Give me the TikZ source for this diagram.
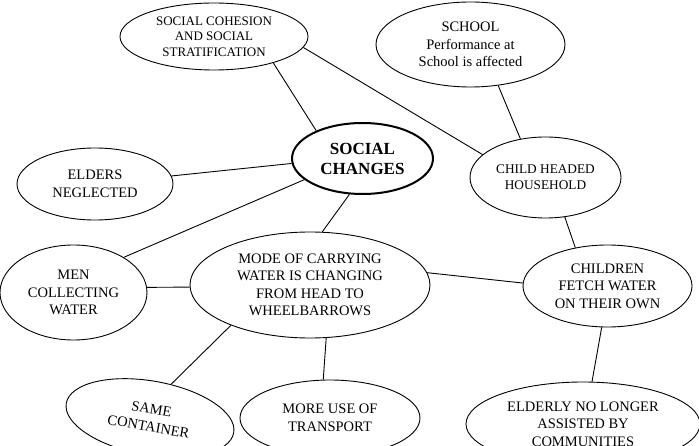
\documentclass[tikz,border=0pt]{standalone}
\usepackage{fontspec}
\setmainfont{Liberation Serif}
\usetikzlibrary{shapes.geometric}
\begin{document}
\begin{tikzpicture}[x=1pt,y=-1pt,
  bub/.style={ellipse,draw,line width=0.9pt,inner sep=0pt,align=center,font=\fontsize{14.5}{17.5}\selectfont},
  link/.style={line width=0.9pt}]
\useasboundingbox (0,0) rectangle (699,446);
\clip (0,0) rectangle (699,446);
\node[bub,minimum width=188,minimum height=67,font=\fontsize{13}{15.7}\selectfont] (coh) at (214,36.5) {SOCIAL COHESION\\AND SOCIAL\\STRATIFICATION};
\node[bub,minimum width=156,minimum height=72] (eld) at (95,184) {ELDERS\\NEGLECTED};
\node[bub,minimum width=141,minimum height=71,line width=2pt,font=\fontsize{17}{20}\selectfont\bfseries] (chg) at (362.5,158.5) {SOCIAL\\CHANGES};
\node[bub,minimum width=189,minimum height=85] (sch) at (470.5,44.5) {SCHOOL\\Performance at\\School is affected};
\node[bub,minimum width=151,minimum height=81,font=\fontsize{13.3}{16}\selectfont] (chh) at (545.5,177.5) {CHILD HEADED\\HOUSEHOLD};
\node[bub,minimum width=147,minimum height=95] (men) at (73.5,292.5) {MEN\\COLLECTING\\WATER};
\node[bub,minimum width=240,minimum height=106] (mode) at (310,285) {MODE OF CARRYING\\WATER IS CHANGING\\FROM HEAD TO\\WHEELBARROWS};
\node[bub,minimum width=169,minimum height=82] (chi) at (607.5,286) {CHILDREN\\FETCH WATER\\ON THEIR OWN};
\node[bub,minimum width=170,minimum height=74,rotate=-10] (same) at (150,418) {SAME\\CONTAINER};
\node[bub,minimum width=180,minimum height=76] (more) at (330,418) {MORE USE OF\\TRANSPORT};
\node[bub,minimum width=234,minimum height=84] (ely) at (583,424) {ELDERLY NO LONGER\\ASSISTED BY\\COMMUNITIES};
\draw[link] (coh.-24) -- (chg.149);
\draw[link] (coh.-7) -- (chh.160);
\draw[link] (eld.6) -- (chg.184);
\draw[link] (men.35) -- (chg.200);
\draw[link] (chg.-110) -- (mode.77);
\draw[link] (sch.-56) -- (chh.123);
\draw[link] (chh.-64) -- (chi.130);
\draw[link] (men.4) -- (mode.181);
\draw[link] (mode.6) -- (chi.178);
\draw[link] (mode.207) -- (same.68);
\draw[link] (mode.-73) -- (more.100);
\draw[link] (chi.-98) -- (ely.78);
\end{tikzpicture}
\end{document}
